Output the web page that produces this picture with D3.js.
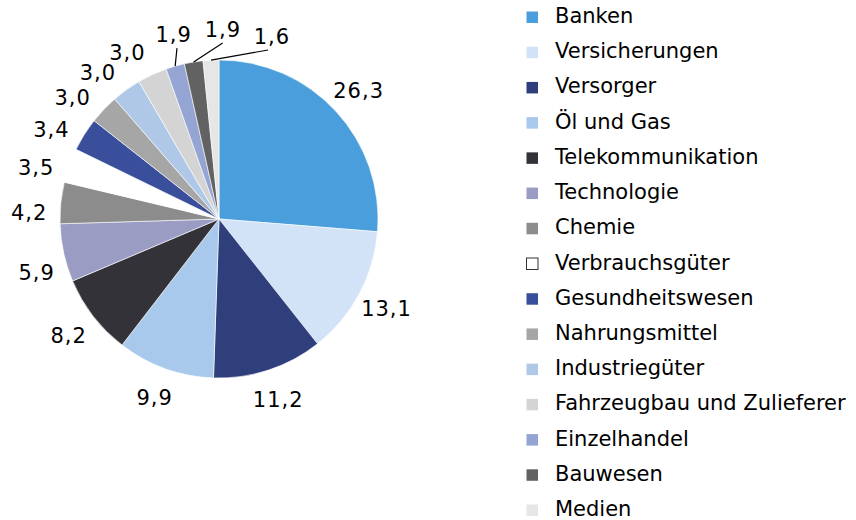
<!DOCTYPE html>
<html>
<head>
<meta charset="utf-8">
<script src="https://cdn.jsdelivr.net/npm/d3@7"></script>
<style>
  body { margin: 0; background: #fff; }
</style>
</head>
<body>
<div class="container"></div>
<script>
// data
var sectors = ["Banken", "Versicherungen", "Versorger", "Öl und Gas", "Telekommunikation",
  "Technologie", "Chemie", "Verbrauchsgüter", "Gesundheitswesen", "Nahrungsmittel",
  "Industriegüter", "Fahrzeugbau und Zulieferer", "Einzelhandel", "Bauwesen", "Medien"];
var shares = [26.3, 13.1, 11.2, 9.9, 8.2, 5.9, 4.2, 3.5, 3.4, 3.0, 3.0, 3.0, 1.9, 1.9, 1.6];
var colors = ["#4a9edb", "#d3e3f7", "#2f3f7c", "#a8c9ec", "#333238",
  "#9b9cc3", "#8c8c8c", "#ffffff", "#3a4f9c", "#a6a6a6",
  "#b0c8e8", "#d4d4d4", "#95a5d3", "#626262", "#e6e6e6"];

var width = 856, height = 520;
var cx = 219, cy = 219, radius = 159, labelR = 190;
var font = "'DejaVu Sans', sans-serif";
var deg = Math.PI / 180;

var svg = d3.select(".container").append("svg")
    .attr("width", width)
    .attr("height", height);

var data = sectors.map((s, i) => ({name: s, value: shares[i], color: colors[i]}));

var pie = d3.pie().sort(null).value(d => d.value);
var arc = d3.arc().innerRadius(0).outerRadius(radius);
var arcs = pie(data);
var mid = d => (d.startAngle + d.endAngle) / 2;

var g = svg.append("g").attr("transform", `translate(${cx},${cy})`);

// slices
g.selectAll("path")
  .data(arcs)
  .join("path")
    .attr("d", arc)
    .attr("fill", d => d.data.color)
    .attr("stroke", "#fff")
    .attr("stroke-width", 0.6);

// label angles: upper-left labels sit a bit lower, thin slices get spread out
var angles = arcs.map(d => {
  var a = mid(d);
  return (a > 240 * deg && a < 340 * deg) ? a - 4 * deg : a;
});
for (var i = 1; i < angles.length; i++) {
  if (arcs[i].data.value < 2 && angles[i] - angles[i - 1] < 15 * deg) angles[i] = angles[i - 1] + 15 * deg;
}

var fmt = v => d3.format(".1f")(v).replace(".", ",");

// leader lines for the thin slices
g.selectAll("line")
  .data(arcs.filter(d => d.data.value < 2))
  .join("line")
    .attr("x1", d => radius * Math.sin(mid(d)))
    .attr("y1", d => -radius * Math.cos(mid(d)))
    .attr("x2", d => (labelR - 14) * Math.sin(angles[d.index]))
    .attr("y2", d => -(labelR - 14) * Math.cos(angles[d.index]))
    .attr("stroke", "#000")
    .attr("stroke-width", 1.2);

g.append("g")
  .selectAll("text")
  .data(arcs)
  .join("text")
    .attr("x", d => labelR * Math.sin(angles[d.index]))
    .attr("y", d => -labelR * Math.cos(angles[d.index]))
    .attr("dy", "0.36em")
    .attr("text-anchor", "middle")
    .style("font-family", font)
    .style("font-size", "21px")
    .style("letter-spacing", "1px")
    .attr("fill", "#000")
    .text(d => fmt(d.data.value));

// legend
var ly = d3.scalePoint().domain(sectors).range([17, 510]);

var legend = svg.append("g")
  .selectAll("g")
  .data(data)
  .join("g")
    .attr("transform", d => `translate(526,${ly(d.name)})`);

legend.append("rect")
    .attr("x", 0.5)
    .attr("y", -5.5)
    .attr("width", 11.5)
    .attr("height", 11.5)
    .attr("fill", d => d.color)
    .attr("stroke", d => d.color == "#ffffff" ? "#333" : "none")
    .attr("stroke-width", 1);

legend.append("text")
    .attr("x", 29)
    .attr("y", 6)
    .style("font-family", font)
    .style("font-size", "21px")
    .attr("fill", "#000")
    .text(d => d.name);
</script>
</body>
</html>
